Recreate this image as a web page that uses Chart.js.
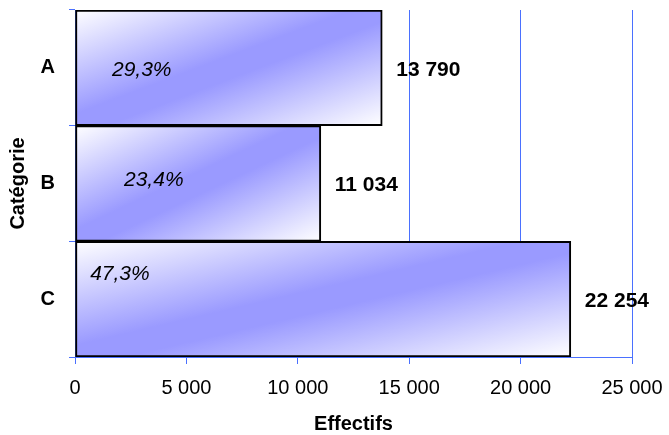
<!DOCTYPE html>
<html>
<head>
<meta charset="utf-8">
<script src="https://cdn.jsdelivr.net/npm/chart.js@4/dist/chart.umd.min.js"></script>
<style>
  body { margin: 0; background: #fff; }
  #wrap { width: 669px; height: 435px; }
</style>
</head>
<body>
<div id="wrap"><canvas id="myChart" width="669" height="435"></canvas></div>
<script>
// data
const categories = ["A", "B", "C"];
const effectifs = [13790, 11034, 22254];
const percents = ["29,3%", "23,4%", "47,3%"];
const xTicks = [0, 5000, 10000, 15000, 20000, 25000];

const axisBlue = "#4a70ff";
const font = "'Liberation Sans', Arial, sans-serif";

// space as thousands separator, like the original
function fmt(n) {
    return String(n).replace(/\B(?=(\d{3})+(?!\d))/g, " ");
}

// diagonal gradient per bar: white corners, blue along the anti-diagonal
function barFill(ctx) {
    const chart = ctx.chart;
    if (!chart.chartArea || ctx.type !== "data") return "#9999ff";
    const xs = chart.scales.x, ys = chart.scales.y;
    const x0 = xs.getPixelForValue(0);
    const x1 = xs.getPixelForValue(effectifs[ctx.dataIndex]);
    const half = (ys.getPixelForValue(1) - ys.getPixelForValue(0)) / 2;
    const yc = ys.getPixelForValue(ctx.dataIndex);
    const w = x1 - x0, h = half * 2;
    const cx = (x0 + x1) / 2;
    const k = (w * h) / (w * w + h * h);
    const g = chart.ctx.createLinearGradient(cx - h * k, yc - w * k, cx + h * k, yc + w * k);
    g.addColorStop(0, "#ffffff");
    g.addColorStop(0.45, "#9a9aff");
    g.addColorStop(0.55, "#9a9aff");
    g.addColorStop(1, "#ffffff");
    return g;
}

// where the percentage labels sit (value units, pixel shift up/down)
const pctAt = [1660, 2200, 680];
const pctShift = [2, -3, -25];

const labelsPlugin = {
    id: "barLabels",
    afterDatasetsDraw(chart) {
        const c = chart.ctx, xs = chart.scales.x, ys = chart.scales.y;
        c.save();
        c.fillStyle = "#000";
        c.textBaseline = "middle";
        effectifs.forEach((v, i) => {
            const y = ys.getPixelForValue(i);
            c.font = "bold 21px " + font;
            c.textAlign = "left";
            c.fillText(fmt(v), xs.getPixelForValue(v) + 14, y + 2);
            c.font = "italic 21px " + font;
            c.fillText(percents[i], xs.getPixelForValue(pctAt[i]), y + pctShift[i]);
        });
        c.restore();
    }
};

new Chart(document.getElementById("myChart"), {
    type: "bar",
    data: {
        labels: categories,
        datasets: [{
            data: effectifs,
            backgroundColor: barFill,
            borderColor: "#000",
            borderWidth: 2,
            borderSkipped: false,
            categoryPercentage: 1,
            barPercentage: 1
        }]
    },
    options: {
        indexAxis: "y",
        responsive: false,
        animation: false,
        layout: { padding: { top: 10, right: 37 } },
        plugins: { legend: { display: false }, tooltip: { enabled: false } },
        scales: {
            x: {
                min: 0,
                max: 25000,
                afterBuildTicks: s => { s.ticks = xTicks.map(v => ({ value: v })); },
                afterFit: s => { s.height = 78; s.paddingLeft = 0; s.paddingRight = 0; },
                border: { color: axisBlue, width: 1 },
                grid: { color: axisBlue, tickLength: 7 },
                ticks: {
                    color: "#000",
                    font: { family: font, size: 20 },
                    padding: 12,
                    maxRotation: 0,
                    callback: v => fmt(v)
                },
                title: {
                    display: true,
                    text: "Effectifs",
                    color: "#000",
                    font: { family: font, size: 20, weight: "bold" },
                    padding: { top: 0, bottom: -1 }
                }
            },
            y: {
                afterFit: s => { s.width = 75; s.paddingTop = 0; s.paddingBottom = 0; },
                border: { color: axisBlue, width: 1 },
                grid: { color: axisBlue, drawOnChartArea: false, tickLength: 6 },
                ticks: {
                    color: "#000",
                    font: { family: font, size: 20, weight: "bold" },
                    padding: 14
                },
                title: {
                    display: true,
                    text: "Catégorie",
                    color: "#000",
                    font: { family: font, size: 20, weight: "bold" },
                    padding: { top: 6, bottom: 0 }
                }
            }
        }
    },
    plugins: [labelsPlugin]
});
</script>
</body>
</html>
